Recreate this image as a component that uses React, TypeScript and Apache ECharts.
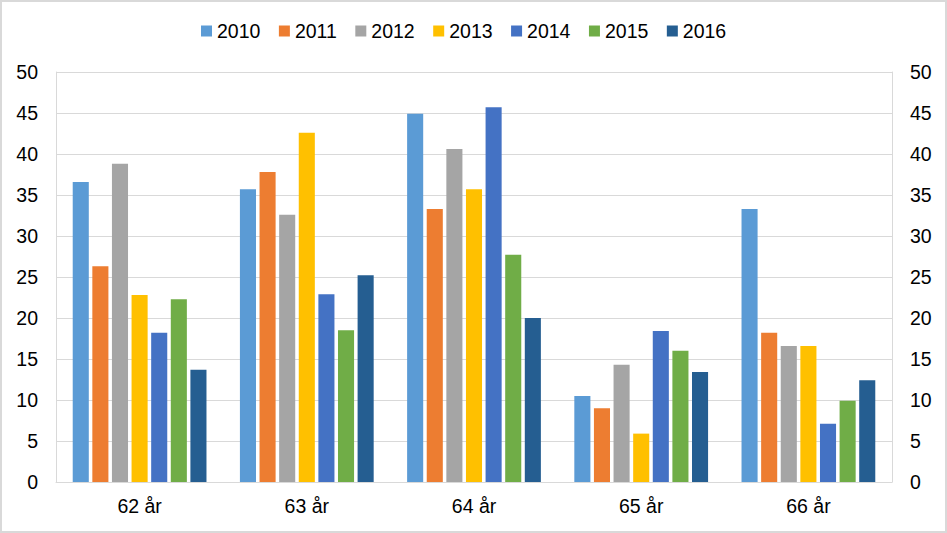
import React, { useEffect, useRef } from "react";
import * as echarts from "echarts";

const categories = ["62 år", "63 år", "64 år", "65 år", "66 år"];
const years = ["2010", "2011", "2012", "2013", "2014", "2015", "2016"];
const v2010 = [36.6, 35.7, 44.9, 10.5, 33.3];
const v2011 = [26.3, 37.8, 33.3, 9.0, 18.2];
const v2012 = [38.8, 32.6, 40.6, 14.3, 16.6];
const v2013 = [22.8, 42.6, 35.7, 5.9, 16.6];
const v2014 = [18.2, 22.9, 45.7, 18.4, 7.1];
const v2015 = [22.3, 18.5, 27.7, 16.0, 9.9];
const v2016 = [13.7, 25.2, 20.0, 13.4, 12.4];
const colors = ["#5B9BD5", "#ED7D31", "#A5A5A5", "#FFC000", "#4472C4", "#70AD47", "#255E91"];

const seriesValues = [v2010, v2011, v2012, v2013, v2014, v2015, v2016];

export default function App() {
  const ref = useRef<HTMLDivElement>(null);
  useEffect(() => {
    document.body.style.margin = "0";
    const chart = echarts.init(ref.current!, null, { renderer: "svg" });
    const font = "Liberation Sans, Arial, sans-serif";
    const fs = 19.5;
    const yAxisCommon = {
      type: "value" as const,
      min: 0,
      max: 50,
      interval: 5,
      axisLine: { show: true, lineStyle: { color: "#D9D9D9", width: 1 } },
      axisTick: { show: false },
      axisLabel: { color: "#000", fontSize: fs, fontFamily: font, margin: 18 },
    };
    chart.setOption({
      animation: false,
      backgroundColor: "#fff",
      color: colors,
      graphic: [
        {
          type: "rect",
          shape: { x: 1, y: 1, width: 945, height: 531 },
          style: { fill: "none", stroke: "#D9D9D9", lineWidth: 2 },
          silent: true,
        },
      ],
      legend: {
        top: 16,
        left: 196,
        itemWidth: 11,
        itemHeight: 11,
        itemGap: 18.5,
        icon: "rect",
        textStyle: { color: "#000", fontSize: fs, fontFamily: font },
        data: years,
      },
      grid: { left: 56, right: 55, top: 72, bottom: 51 },
      xAxis: {
        type: "category",
        data: categories,
        axisLine: { show: true, lineStyle: { color: "#D9D9D9", width: 1 } },
        axisTick: { show: false },
        axisLabel: { color: "#000", fontSize: fs, fontFamily: font, margin: 14 },
      },
      yAxis: [
        {
          ...yAxisCommon,
          position: "left",
          splitLine: { show: true, lineStyle: { color: "#D9D9D9", width: 1 } },
        },
        {
          ...yAxisCommon,
          position: "right",
          splitLine: { show: false },
        },
      ],
      series: years.map((y, i) => ({
        name: y,
        type: "bar",
        yAxisIndex: 0,
        data: seriesValues[i],
        barGap: "22%",
        barCategoryGap: "20%",
      })),
    });
    return () => chart.dispose();
  }, []);
  return (
    <div
      ref={ref}
      style={{ position: "absolute", left: 0, top: 0, width: 947, height: 533 }}
    />
  );
}
